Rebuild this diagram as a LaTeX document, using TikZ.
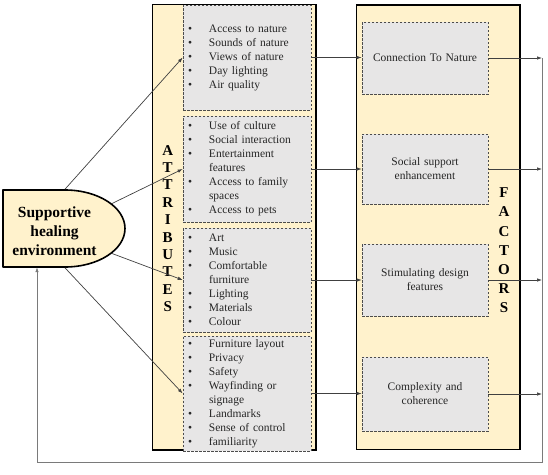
\documentclass[tikz,border=0pt]{standalone}
\usepackage{fontspec}
\setmainfont{Liberation Serif}
\usetikzlibrary{arrows.meta, shapes.geometric}

\definecolor{panelfill}{HTML}{FFF2CC}
\definecolor{itemfill}{HTML}{E7E6E6}
\definecolor{arrowgray}{HTML}{404040}
\definecolor{loopgray}{HTML}{7A7A7A}

\newcommand{\bul}{\makebox[21pt][l]{\textbullet}}
\newcommand{\hang}{\hspace*{21pt}}

\tikzset{
  panel/.style={draw, line width=1.6pt, fill=panelfill, inner sep=0pt},
  item/.style={draw=black!70, dash pattern=on 2.5pt off 1.5pt, line width=0.6pt,
    fill=itemfill, text=black!85, font=\fontsize{11.5}{14}\selectfont},
  attritem/.style={item, minimum width=128pt, text width=118pt, inner xsep=5pt, align=left},
  factitem/.style={item, minimum width=126pt, text width=116pt, inner xsep=5pt, align=center},
  letters/.style={font=\fontsize{15}{#1}\selectfont\bfseries, align=center, inner sep=0pt},
  feed/.style={draw=arrowgray, line width=0.7pt, -{Latex[length=5pt, width=3.5pt]}},
}

\begin{document}
\begin{tikzpicture}[x=1pt, y=-1pt]
\useasboundingbox (0,0) rectangle (548,474);

\node[panel, minimum width=163.5pt, minimum height=445.5pt] (attrs) at (234.25,227.25) {};
\node[panel, minimum width=163.5pt, minimum height=444.5pt] (facts) at (438.25,227.25) {};

\node[attritem, minimum height=105pt] (a1) at (247,57.5)
  {\bul Access to nature\\ \bul Sounds of nature\\ \bul Views of nature\\ \bul Day lighting\\ \bul Air quality};
\node[attritem, minimum height=106pt] (a2) at (247,169)
  {\bul Use of culture\\ \bul Social interaction\\ \bul Entertainment\\ \hang features\\ \bul Access to family\\ \hang spaces\\ \bul Access to pets};
\node[attritem, minimum height=104pt] (a3) at (247,280)
  {\bul Art\\ \bul Music\\ \bul Comfortable\\ \hang furniture\\ \bul Lighting\\ \bul Materials\\ \bul Colour};
\node[attritem, minimum height=111pt] (a4) at (247,393.5)
  {\bul Furniture layout\\ \bul Privacy\\ \bul Safety\\ \bul Wayfinding or\\ \hang signage\\ \bul Landmarks\\ \bul Sense of control\\ \bul familiarity};

\node[factitem, minimum height=72pt] (f1) at (425,58) {Connection To Nature};
\node[factitem, minimum height=70pt] (f2) at (425,169) {Social support\\ enhancement};
\node[factitem, minimum height=72pt] (f3) at (425,280) {Stimulating design\\ features};
\node[factitem, minimum height=74pt] (f4) at (425,394) {Complexity and\\ coherence};

\node[letters=17.4pt] (attrT) at (167.75,228.5) {A\\T\\T\\R\\I\\B\\U\\T\\E\\S};
\node[letters=19.2pt] (factT) at (504,250.5) {F\\A\\C\\T\\O\\R\\S};

\node[ellipse, draw, line width=1.6pt, fill=panelfill, inner sep=0pt,
  minimum width=120pt, minimum height=77pt] (sheE) at (65,228.5) {};
\node[inner sep=0pt, minimum width=62pt, minimum height=77pt] (sheR) at (34,228.5) {};
\fill[panelfill] (sheR.north west) rectangle (sheR.south east);
\draw[line width=1.6pt, line join=round] (sheR.north east) -- (sheR.north west)
  -- (sheR.south west) -- (sheR.south east);
\node[font=\fontsize{15.5}{19}\selectfont\bfseries, align=center, inner sep=0pt] (she)
  at (54.5,231.5) {Supportive\\ healing\\ environment};

\draw[feed] (sheE.north) -- (a1.west);
\draw[feed] (sheE.28) -- (a2.west);
\draw[feed] (sheE.-28) -- (a3.west);
\draw[feed] (sheE.south) -- (a4.west);

\draw[feed] (a1.east) -- (a1.east -| f1.west);
\draw[feed] (a2.east) -- (a2.east -| f2.west);
\draw[feed] (a3.east) -- (a3.east -| f3.west);
\draw[feed] (a4.east) -- (a4.east -| f4.west);

\coordinate (railR) at (542,462);
\coordinate (railL) at (37,462);

\draw[feed] (f1.east) -- (f1.east -| railR);
\draw[feed] (f2.east) -- (f2.east -| railR);
\draw[feed] (f3.east) -- (f3.east -| railR);
\draw[feed] (f4.east) -- (f4.east -| railR);

\draw[feed, draw=loopgray] (f1.east -| railR) -- (railR) -- (railL) -- (railL |- sheR.south);
\end{tikzpicture}
\end{document}
